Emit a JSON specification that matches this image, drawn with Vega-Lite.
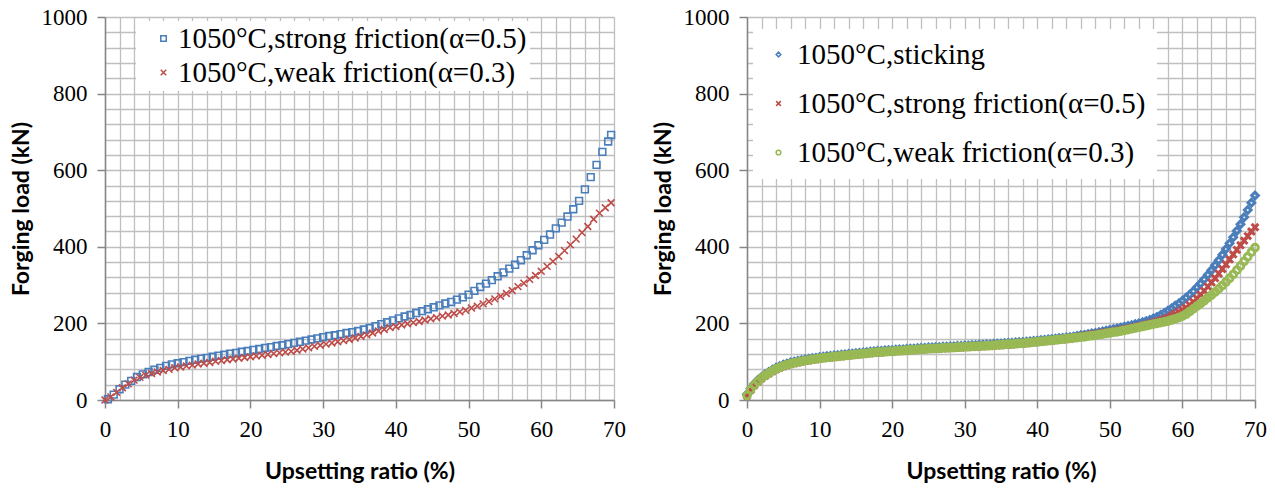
{
  "$schema": "https://vega.github.io/schema/vega-lite/v6.json",
  "padding": {"left": 10, "top": 6, "right": 10, "bottom": 5},
  "background": "white",
  "config": {"view": {"stroke": null}, "font": "Liberation Serif", "concat": {"spacing": 26},
    "axis": {"labelFont": "Liberation Serif", "labelFontSize": 23, "labelColor": "black", "titleFont": "Lato", "titleFontSize": 23, "titleFontWeight": "bold", "titleColor": "black"}},
  "resolve": {"scale": {"color": "independent", "shape": "independent"}, "legend": {"color": "independent", "shape": "independent"}},
  "datasets": {
    "left": [
      {"s":"a","x":0.4,"y":2},{"s":"a","x":1.2,"y":14},{"s":"a","x":2.0,"y":28},{"s":"a","x":2.8,"y":40},{"s":"a","x":3.6,"y":50},{"s":"a","x":4.4,"y":60},{"s":"a","x":5.2,"y":67},{"s":"a","x":6.0,"y":73},{"s":"a","x":6.8,"y":79},{"s":"a","x":7.6,"y":84},{"s":"a","x":8.4,"y":89},{"s":"a","x":9.2,"y":93},{"s":"a","x":10.0,"y":96},{"s":"a","x":10.8,"y":99},{"s":"a","x":11.6,"y":102},{"s":"a","x":12.4,"y":105},{"s":"a","x":13.2,"y":108},{"s":"a","x":14.0,"y":110},{"s":"a","x":14.8,"y":113},{"s":"a","x":15.6,"y":116},{"s":"a","x":16.4,"y":118},{"s":"a","x":17.2,"y":121},{"s":"a","x":18.0,"y":123},{"s":"a","x":18.8,"y":126},{"s":"a","x":19.6,"y":128},{"s":"a","x":20.4,"y":131},{"s":"a","x":21.2,"y":133},{"s":"a","x":22.0,"y":136},{"s":"a","x":22.8,"y":138},{"s":"a","x":23.6,"y":141},{"s":"a","x":24.4,"y":143},{"s":"a","x":25.2,"y":146},{"s":"a","x":26.0,"y":149},{"s":"a","x":26.8,"y":152},{"s":"a","x":27.6,"y":155},{"s":"a","x":28.4,"y":158},{"s":"a","x":29.2,"y":161},{"s":"a","x":30.0,"y":164},{"s":"a","x":30.8,"y":167},{"s":"a","x":31.6,"y":169},{"s":"a","x":32.4,"y":172},{"s":"a","x":33.2,"y":175},{"s":"a","x":34.0,"y":177},{"s":"a","x":34.8,"y":180},{"s":"a","x":35.6,"y":184},{"s":"a","x":36.4,"y":188},{"s":"a","x":37.2,"y":193},{"s":"a","x":38.0,"y":198},{"s":"a","x":38.8,"y":203},{"s":"a","x":39.6,"y":208},{"s":"a","x":40.4,"y":213},{"s":"a","x":41.2,"y":218},{"s":"a","x":42.0,"y":222},{"s":"a","x":42.8,"y":227},{"s":"a","x":43.6,"y":232},{"s":"a","x":44.4,"y":237},{"s":"a","x":45.2,"y":242},{"s":"a","x":46.0,"y":247},{"s":"a","x":46.8,"y":252},{"s":"a","x":47.6,"y":256},{"s":"a","x":48.4,"y":262},{"s":"a","x":49.2,"y":268},{"s":"a","x":50.0,"y":275},{"s":"a","x":50.8,"y":285},{"s":"a","x":51.6,"y":295},{"s":"a","x":52.4,"y":304},{"s":"a","x":53.2,"y":313},{"s":"a","x":54.0,"y":323},{"s":"a","x":54.8,"y":333},{"s":"a","x":55.6,"y":343},{"s":"a","x":56.4,"y":353},{"s":"a","x":57.2,"y":365},{"s":"a","x":58.0,"y":378},{"s":"a","x":58.8,"y":391},{"s":"a","x":59.6,"y":404},{"s":"a","x":60.4,"y":418},{"s":"a","x":61.2,"y":432},{"s":"a","x":62.0,"y":448},{"s":"a","x":62.8,"y":463},{"s":"a","x":63.6,"y":479},{"s":"a","x":64.4,"y":498},{"s":"a","x":65.2,"y":520},{"s":"a","x":66.0,"y":550},{"s":"a","x":66.8,"y":582},{"s":"a","x":67.6,"y":614},{"s":"a","x":68.4,"y":648},{"s":"a","x":69.2,"y":675},{"s":"a","x":69.6,"y":692},
      {"s":"b","x":0.0,"y":0},{"s":"b","x":0.8,"y":8},{"s":"b","x":1.6,"y":20},{"s":"b","x":2.4,"y":32},{"s":"b","x":3.2,"y":42},{"s":"b","x":4.0,"y":52},{"s":"b","x":4.8,"y":59},{"s":"b","x":5.6,"y":65},{"s":"b","x":6.4,"y":69},{"s":"b","x":7.2,"y":73},{"s":"b","x":8.0,"y":77},{"s":"b","x":8.8,"y":80},{"s":"b","x":9.6,"y":84},{"s":"b","x":10.4,"y":86},{"s":"b","x":11.2,"y":89},{"s":"b","x":12.0,"y":91},{"s":"b","x":12.8,"y":94},{"s":"b","x":13.6,"y":96},{"s":"b","x":14.4,"y":98},{"s":"b","x":15.2,"y":101},{"s":"b","x":16.0,"y":103},{"s":"b","x":16.8,"y":105},{"s":"b","x":17.6,"y":107},{"s":"b","x":18.4,"y":109},{"s":"b","x":19.2,"y":111},{"s":"b","x":20.0,"y":113},{"s":"b","x":20.8,"y":115},{"s":"b","x":21.6,"y":117},{"s":"b","x":22.4,"y":119},{"s":"b","x":23.2,"y":121},{"s":"b","x":24.0,"y":123},{"s":"b","x":24.8,"y":125},{"s":"b","x":25.6,"y":127},{"s":"b","x":26.4,"y":130},{"s":"b","x":27.2,"y":133},{"s":"b","x":28.0,"y":136},{"s":"b","x":28.8,"y":140},{"s":"b","x":29.6,"y":143},{"s":"b","x":30.4,"y":146},{"s":"b","x":31.2,"y":149},{"s":"b","x":32.0,"y":152},{"s":"b","x":32.8,"y":155},{"s":"b","x":33.6,"y":158},{"s":"b","x":34.4,"y":162},{"s":"b","x":35.2,"y":166},{"s":"b","x":36.0,"y":170},{"s":"b","x":36.8,"y":175},{"s":"b","x":37.6,"y":180},{"s":"b","x":38.4,"y":184},{"s":"b","x":39.2,"y":189},{"s":"b","x":40.0,"y":192},{"s":"b","x":40.8,"y":196},{"s":"b","x":41.6,"y":199},{"s":"b","x":42.4,"y":202},{"s":"b","x":43.2,"y":205},{"s":"b","x":44.0,"y":209},{"s":"b","x":44.8,"y":212},{"s":"b","x":45.6,"y":215},{"s":"b","x":46.4,"y":219},{"s":"b","x":47.2,"y":222},{"s":"b","x":48.0,"y":226},{"s":"b","x":48.8,"y":230},{"s":"b","x":49.6,"y":234},{"s":"b","x":50.4,"y":240},{"s":"b","x":51.2,"y":245},{"s":"b","x":52.0,"y":251},{"s":"b","x":52.8,"y":257},{"s":"b","x":53.6,"y":264},{"s":"b","x":54.4,"y":271},{"s":"b","x":55.2,"y":278},{"s":"b","x":56.0,"y":286},{"s":"b","x":56.8,"y":296},{"s":"b","x":57.6,"y":305},{"s":"b","x":58.4,"y":315},{"s":"b","x":59.2,"y":325},{"s":"b","x":60.0,"y":336},{"s":"b","x":60.8,"y":349},{"s":"b","x":61.6,"y":362},{"s":"b","x":62.4,"y":375},{"s":"b","x":63.2,"y":390},{"s":"b","x":64.0,"y":405},{"s":"b","x":64.8,"y":420},{"s":"b","x":65.6,"y":437},{"s":"b","x":66.4,"y":453},{"s":"b","x":67.2,"y":472},{"s":"b","x":68.0,"y":488},{"s":"b","x":68.8,"y":502},{"s":"b","x":69.6,"y":515}
    ],
    "right": [
      {"s":"p","x":0,"y":15},{"s":"p","x":0.5,"y":30},{"s":"p","x":1,"y":42},{"s":"p","x":1.5,"y":52},{"s":"p","x":2,"y":60},{"s":"p","x":2.5,"y":67},{"s":"p","x":3,"y":73},{"s":"p","x":3.5,"y":79},{"s":"p","x":4,"y":84},{"s":"p","x":4.5,"y":88},{"s":"p","x":5,"y":92},{"s":"p","x":5.5,"y":95},{"s":"p","x":6,"y":98},{"s":"p","x":6.5,"y":100},{"s":"p","x":7,"y":102},{"s":"p","x":7.5,"y":104},{"s":"p","x":8,"y":106},{"s":"p","x":8.5,"y":107},{"s":"p","x":9,"y":109},{"s":"p","x":9.5,"y":110},{"s":"p","x":10,"y":112},{"s":"p","x":10.5,"y":113},{"s":"p","x":11,"y":114},{"s":"p","x":11.5,"y":115},{"s":"p","x":12,"y":116},{"s":"p","x":12.5,"y":117},{"s":"p","x":13,"y":118},{"s":"p","x":13.5,"y":119},{"s":"p","x":14,"y":120},{"s":"p","x":14.5,"y":121},{"s":"p","x":15,"y":122},{"s":"p","x":15.5,"y":123},{"s":"p","x":16,"y":124},{"s":"p","x":16.5,"y":125},{"s":"p","x":17,"y":126},{"s":"p","x":17.5,"y":127},{"s":"p","x":18,"y":128},{"s":"p","x":18.5,"y":128},{"s":"p","x":19,"y":129},{"s":"p","x":19.5,"y":130},{"s":"p","x":20,"y":130},{"s":"p","x":20.5,"y":131},{"s":"p","x":21,"y":132},{"s":"p","x":21.5,"y":132},{"s":"p","x":22,"y":133},{"s":"p","x":22.5,"y":134},{"s":"p","x":23,"y":134},{"s":"p","x":23.5,"y":135},{"s":"p","x":24,"y":136},{"s":"p","x":24.5,"y":136},{"s":"p","x":25,"y":137},{"s":"p","x":25.5,"y":137},{"s":"p","x":26,"y":138},{"s":"p","x":26.5,"y":138},{"s":"p","x":27,"y":139},{"s":"p","x":27.5,"y":139},{"s":"p","x":28,"y":140},{"s":"p","x":28.5,"y":140},{"s":"p","x":29,"y":141},{"s":"p","x":29.5,"y":141},{"s":"p","x":30,"y":142},{"s":"p","x":30.5,"y":142},{"s":"p","x":31,"y":143},{"s":"p","x":31.5,"y":143},{"s":"p","x":32,"y":144},{"s":"p","x":32.5,"y":144},{"s":"p","x":33,"y":145},{"s":"p","x":33.5,"y":145},{"s":"p","x":34,"y":146},{"s":"p","x":34.5,"y":147},{"s":"p","x":35,"y":147},{"s":"p","x":35.5,"y":148},{"s":"p","x":36,"y":149},{"s":"p","x":36.5,"y":149},{"s":"p","x":37,"y":150},{"s":"p","x":37.5,"y":151},{"s":"p","x":38,"y":151},{"s":"p","x":38.5,"y":152},{"s":"p","x":39,"y":153},{"s":"p","x":39.5,"y":154},{"s":"p","x":40,"y":155},{"s":"p","x":40.5,"y":156},{"s":"p","x":41,"y":157},{"s":"p","x":41.5,"y":158},{"s":"p","x":42,"y":159},{"s":"p","x":42.5,"y":160},{"s":"p","x":43,"y":161},{"s":"p","x":43.5,"y":162},{"s":"p","x":44,"y":163},{"s":"p","x":44.5,"y":164},{"s":"p","x":45,"y":165},{"s":"p","x":45.5,"y":167},{"s":"p","x":46,"y":169},{"s":"p","x":46.5,"y":170},{"s":"p","x":47,"y":172},{"s":"p","x":47.5,"y":174},{"s":"p","x":48,"y":175},{"s":"p","x":48.5,"y":177},{"s":"p","x":49,"y":179},{"s":"p","x":49.5,"y":181},{"s":"p","x":50,"y":183},{"s":"p","x":50.5,"y":185},{"s":"p","x":51,"y":187},{"s":"p","x":51.5,"y":189},{"s":"p","x":52,"y":191},{"s":"p","x":52.5,"y":193},{"s":"p","x":53,"y":195},{"s":"p","x":53.5,"y":198},{"s":"p","x":54,"y":200},{"s":"p","x":54.5,"y":203},{"s":"p","x":55,"y":206},{"s":"p","x":55.5,"y":209},{"s":"p","x":56,"y":213},{"s":"p","x":56.5,"y":217},{"s":"p","x":57,"y":222},{"s":"p","x":57.5,"y":227},{"s":"p","x":58,"y":233},{"s":"p","x":58.5,"y":239},{"s":"p","x":59,"y":246},{"s":"p","x":59.5,"y":252},{"s":"p","x":60,"y":259},{"s":"p","x":60.5,"y":267},{"s":"p","x":61,"y":275},{"s":"p","x":61.5,"y":284},{"s":"p","x":62,"y":294},{"s":"p","x":62.5,"y":304},{"s":"p","x":63,"y":315},{"s":"p","x":63.5,"y":327},{"s":"p","x":64,"y":339},{"s":"p","x":64.5,"y":352},{"s":"p","x":65,"y":365},{"s":"p","x":65.5,"y":379},{"s":"p","x":66,"y":394},{"s":"p","x":66.5,"y":409},{"s":"p","x":67,"y":425},{"s":"p","x":67.5,"y":442},{"s":"p","x":68,"y":459},{"s":"p","x":68.5,"y":477},{"s":"p","x":69,"y":496},{"s":"p","x":69.5,"y":515},{"s":"p","x":70,"y":534},
      {"s":"q","x":0,"y":11},{"s":"q","x":0.5,"y":26},{"s":"q","x":1,"y":38},{"s":"q","x":1.5,"y":48},{"s":"q","x":2,"y":56},{"s":"q","x":2.5,"y":63},{"s":"q","x":3,"y":69},{"s":"q","x":3.5,"y":75},{"s":"q","x":4,"y":80},{"s":"q","x":4.5,"y":84},{"s":"q","x":5,"y":88},{"s":"q","x":5.5,"y":91},{"s":"q","x":6,"y":94},{"s":"q","x":6.5,"y":96},{"s":"q","x":7,"y":98},{"s":"q","x":7.5,"y":100},{"s":"q","x":8,"y":102},{"s":"q","x":8.5,"y":103},{"s":"q","x":9,"y":105},{"s":"q","x":9.5,"y":106},{"s":"q","x":10,"y":108},{"s":"q","x":10.5,"y":109},{"s":"q","x":11,"y":110},{"s":"q","x":11.5,"y":111},{"s":"q","x":12,"y":112},{"s":"q","x":12.5,"y":113},{"s":"q","x":13,"y":114},{"s":"q","x":13.5,"y":115},{"s":"q","x":14,"y":116},{"s":"q","x":14.5,"y":117},{"s":"q","x":15,"y":118},{"s":"q","x":15.5,"y":119},{"s":"q","x":16,"y":120},{"s":"q","x":16.5,"y":121},{"s":"q","x":17,"y":122},{"s":"q","x":17.5,"y":123},{"s":"q","x":18,"y":124},{"s":"q","x":18.5,"y":124},{"s":"q","x":19,"y":125},{"s":"q","x":19.5,"y":126},{"s":"q","x":20,"y":126},{"s":"q","x":20.5,"y":127},{"s":"q","x":21,"y":128},{"s":"q","x":21.5,"y":128},{"s":"q","x":22,"y":129},{"s":"q","x":22.5,"y":130},{"s":"q","x":23,"y":130},{"s":"q","x":23.5,"y":131},{"s":"q","x":24,"y":132},{"s":"q","x":24.5,"y":132},{"s":"q","x":25,"y":133},{"s":"q","x":25.5,"y":133},{"s":"q","x":26,"y":134},{"s":"q","x":26.5,"y":134},{"s":"q","x":27,"y":135},{"s":"q","x":27.5,"y":135},{"s":"q","x":28,"y":136},{"s":"q","x":28.5,"y":136},{"s":"q","x":29,"y":137},{"s":"q","x":29.5,"y":137},{"s":"q","x":30,"y":138},{"s":"q","x":30.5,"y":138},{"s":"q","x":31,"y":139},{"s":"q","x":31.5,"y":139},{"s":"q","x":32,"y":140},{"s":"q","x":32.5,"y":140},{"s":"q","x":33,"y":141},{"s":"q","x":33.5,"y":141},{"s":"q","x":34,"y":142},{"s":"q","x":34.5,"y":143},{"s":"q","x":35,"y":143},{"s":"q","x":35.5,"y":144},{"s":"q","x":36,"y":145},{"s":"q","x":36.5,"y":145},{"s":"q","x":37,"y":146},{"s":"q","x":37.5,"y":147},{"s":"q","x":38,"y":147},{"s":"q","x":38.5,"y":148},{"s":"q","x":39,"y":149},{"s":"q","x":39.5,"y":150},{"s":"q","x":40,"y":151},{"s":"q","x":40.5,"y":152},{"s":"q","x":41,"y":153},{"s":"q","x":41.5,"y":154},{"s":"q","x":42,"y":155},{"s":"q","x":42.5,"y":156},{"s":"q","x":43,"y":157},{"s":"q","x":43.5,"y":158},{"s":"q","x":44,"y":159},{"s":"q","x":44.5,"y":160},{"s":"q","x":45,"y":163},{"s":"q","x":45.5,"y":165},{"s":"q","x":46,"y":166},{"s":"q","x":46.5,"y":168},{"s":"q","x":47,"y":169},{"s":"q","x":47.5,"y":171},{"s":"q","x":48,"y":172},{"s":"q","x":48.5,"y":174},{"s":"q","x":49,"y":175},{"s":"q","x":49.5,"y":177},{"s":"q","x":50,"y":178},{"s":"q","x":50.5,"y":180},{"s":"q","x":51,"y":181},{"s":"q","x":51.5,"y":183},{"s":"q","x":52,"y":185},{"s":"q","x":52.5,"y":187},{"s":"q","x":53,"y":189},{"s":"q","x":53.5,"y":191},{"s":"q","x":54,"y":193},{"s":"q","x":54.5,"y":195},{"s":"q","x":55,"y":197},{"s":"q","x":55.5,"y":200},{"s":"q","x":56,"y":202},{"s":"q","x":56.5,"y":205},{"s":"q","x":57,"y":208},{"s":"q","x":57.5,"y":211},{"s":"q","x":58,"y":215},{"s":"q","x":58.5,"y":220},{"s":"q","x":59,"y":225},{"s":"q","x":59.5,"y":230},{"s":"q","x":60,"y":235},{"s":"q","x":60.5,"y":241},{"s":"q","x":61,"y":248},{"s":"q","x":61.5,"y":256},{"s":"q","x":62,"y":265},{"s":"q","x":62.5,"y":275},{"s":"q","x":63,"y":285},{"s":"q","x":63.5,"y":296},{"s":"q","x":64,"y":307},{"s":"q","x":64.5,"y":318},{"s":"q","x":65,"y":330},{"s":"q","x":65.5,"y":342},{"s":"q","x":66,"y":354},{"s":"q","x":66.5,"y":367},{"s":"q","x":67,"y":380},{"s":"q","x":67.5,"y":392},{"s":"q","x":68,"y":404},{"s":"q","x":68.5,"y":416},{"s":"q","x":69,"y":428},{"s":"q","x":69.5,"y":440},{"s":"q","x":70,"y":451},
      {"s":"r","x":0,"y":12},{"s":"r","x":0.5,"y":27},{"s":"r","x":1,"y":39},{"s":"r","x":1.5,"y":49},{"s":"r","x":2,"y":57},{"s":"r","x":2.5,"y":64},{"s":"r","x":3,"y":70},{"s":"r","x":3.5,"y":76},{"s":"r","x":4,"y":81},{"s":"r","x":4.5,"y":85},{"s":"r","x":5,"y":89},{"s":"r","x":5.5,"y":92},{"s":"r","x":6,"y":95},{"s":"r","x":6.5,"y":97},{"s":"r","x":7,"y":99},{"s":"r","x":7.5,"y":101},{"s":"r","x":8,"y":103},{"s":"r","x":8.5,"y":104},{"s":"r","x":9,"y":106},{"s":"r","x":9.5,"y":107},{"s":"r","x":10,"y":109},{"s":"r","x":10.5,"y":110},{"s":"r","x":11,"y":111},{"s":"r","x":11.5,"y":112},{"s":"r","x":12,"y":113},{"s":"r","x":12.5,"y":114},{"s":"r","x":13,"y":115},{"s":"r","x":13.5,"y":116},{"s":"r","x":14,"y":117},{"s":"r","x":14.5,"y":118},{"s":"r","x":15,"y":119},{"s":"r","x":15.5,"y":120},{"s":"r","x":16,"y":121},{"s":"r","x":16.5,"y":122},{"s":"r","x":17,"y":123},{"s":"r","x":17.5,"y":124},{"s":"r","x":18,"y":125},{"s":"r","x":18.5,"y":125},{"s":"r","x":19,"y":126},{"s":"r","x":19.5,"y":127},{"s":"r","x":20,"y":127},{"s":"r","x":20.5,"y":128},{"s":"r","x":21,"y":129},{"s":"r","x":21.5,"y":129},{"s":"r","x":22,"y":130},{"s":"r","x":22.5,"y":131},{"s":"r","x":23,"y":131},{"s":"r","x":23.5,"y":132},{"s":"r","x":24,"y":133},{"s":"r","x":24.5,"y":133},{"s":"r","x":25,"y":134},{"s":"r","x":25.5,"y":134},{"s":"r","x":26,"y":135},{"s":"r","x":26.5,"y":135},{"s":"r","x":27,"y":136},{"s":"r","x":27.5,"y":136},{"s":"r","x":28,"y":137},{"s":"r","x":28.5,"y":137},{"s":"r","x":29,"y":138},{"s":"r","x":29.5,"y":138},{"s":"r","x":30,"y":139},{"s":"r","x":30.5,"y":139},{"s":"r","x":31,"y":140},{"s":"r","x":31.5,"y":140},{"s":"r","x":32,"y":141},{"s":"r","x":32.5,"y":141},{"s":"r","x":33,"y":142},{"s":"r","x":33.5,"y":142},{"s":"r","x":34,"y":143},{"s":"r","x":34.5,"y":144},{"s":"r","x":35,"y":144},{"s":"r","x":35.5,"y":145},{"s":"r","x":36,"y":146},{"s":"r","x":36.5,"y":146},{"s":"r","x":37,"y":147},{"s":"r","x":37.5,"y":148},{"s":"r","x":38,"y":148},{"s":"r","x":38.5,"y":149},{"s":"r","x":39,"y":150},{"s":"r","x":39.5,"y":151},{"s":"r","x":40,"y":152},{"s":"r","x":40.5,"y":153},{"s":"r","x":41,"y":154},{"s":"r","x":41.5,"y":155},{"s":"r","x":42,"y":156},{"s":"r","x":42.5,"y":157},{"s":"r","x":43,"y":158},{"s":"r","x":43.5,"y":159},{"s":"r","x":44,"y":160},{"s":"r","x":44.5,"y":161},{"s":"r","x":45,"y":162},{"s":"r","x":45.5,"y":163},{"s":"r","x":46,"y":164},{"s":"r","x":46.5,"y":165},{"s":"r","x":47,"y":167},{"s":"r","x":47.5,"y":168},{"s":"r","x":48,"y":169},{"s":"r","x":48.5,"y":171},{"s":"r","x":49,"y":172},{"s":"r","x":49.5,"y":174},{"s":"r","x":50,"y":175},{"s":"r","x":50.5,"y":177},{"s":"r","x":51,"y":178},{"s":"r","x":51.5,"y":180},{"s":"r","x":52,"y":182},{"s":"r","x":52.5,"y":184},{"s":"r","x":53,"y":186},{"s":"r","x":53.5,"y":188},{"s":"r","x":54,"y":190},{"s":"r","x":54.5,"y":192},{"s":"r","x":55,"y":194},{"s":"r","x":55.5,"y":196},{"s":"r","x":56,"y":198},{"s":"r","x":56.5,"y":200},{"s":"r","x":57,"y":202},{"s":"r","x":57.5,"y":204},{"s":"r","x":58,"y":206},{"s":"r","x":58.5,"y":209},{"s":"r","x":59,"y":212},{"s":"r","x":59.5,"y":215},{"s":"r","x":60,"y":219},{"s":"r","x":60.5,"y":224},{"s":"r","x":61,"y":231},{"s":"r","x":61.5,"y":238},{"s":"r","x":62,"y":245},{"s":"r","x":62.5,"y":252},{"s":"r","x":63,"y":259},{"s":"r","x":63.5,"y":267},{"s":"r","x":64,"y":274},{"s":"r","x":64.5,"y":282},{"s":"r","x":65,"y":290},{"s":"r","x":65.5,"y":299},{"s":"r","x":66,"y":308},{"s":"r","x":66.5,"y":318},{"s":"r","x":67,"y":328},{"s":"r","x":67.5,"y":339},{"s":"r","x":68,"y":350},{"s":"r","x":68.5,"y":362},{"s":"r","x":69,"y":374},{"s":"r","x":69.5,"y":386},{"s":"r","x":70,"y":398}
    ]
  },
  "hconcat": [
    {
      "width": 509,
      "height": 383,
      "data": {"name": "left"},
      "mark": {"type": "point", "filled": false, "strokeWidth": 1.6, "size": 46, "opacity": 1},
      "encoding": {
        "x": {"field": "x", "type": "quantitative", "scale": {"domain": [0, 70], "nice": false, "zero": false},
          "axis": {"values": [0,2,4,6,8,10,12,14,16,18,20,22,24,26,28,30,32,34,36,38,40,42,44,46,48,50,52,54,56,58,60,62,64,66,68,70],
            "labelExpr": "datum.value % 10 === 0 ? '' + datum.value : ''", "labelOverlap": false, "labelFlush": false,
            "grid": true, "gridColor": "#bfbfbf", "gridWidth": 1.3,
            "domainColor": "#868686", "domainWidth": 1.5, "tickColor": "#868686", "tickWidth": 1.5, "tickSize": 8,
            "tickOpacity": {"condition": {"test": "datum.value % 10 === 0", "value": 1}, "value": 0},
            "labelFont": "Liberation Serif", "labelFontSize": 23, "labelColor": "black", "labelPadding": 10,
            "title": "Upsetting ratio (%)", "titleFont": "Lato", "titleFontSize": 23, "titleFontWeight": "bold", "titleColor": "black", "titlePadding": 19}},
        "y": {"field": "y", "type": "quantitative", "scale": {"domain": [0, 1000], "nice": false, "zero": false},
          "axis": {"values": [0,40,80,120,160,200,240,280,320,360,400,440,480,520,560,600,640,680,720,760,800,840,880,920,960,1000],
            "labelExpr": "datum.value % 200 === 0 ? '' + datum.value : ''", "labelOverlap": false, "labelFlush": false,
            "grid": true, "gridColor": "#bfbfbf", "gridWidth": 1.3,
            "domainColor": "#868686", "domainWidth": 1.5, "tickColor": "#868686", "tickWidth": 1.5, "tickSize": 8,
            "tickOpacity": {"condition": {"test": "datum.value % 200 === 0", "value": 1}, "value": 0},
            "labelFont": "Liberation Serif", "labelFontSize": 23, "labelColor": "black", "labelPadding": 10,
            "title": "Forging load (kN)", "titleFont": "Lato", "titleFontSize": 23, "titleFontWeight": "bold", "titleColor": "black", "titlePadding": 8}},
        "color": {"field": "s", "type": "nominal", "scale": {"domain": ["a", "b"], "range": ["#4A7EBB", "#BE4B48"]},
          "legend": {"orient": "none", "legendX": 31, "legendY": 4, "title": null, "fillColor": "white", "padding": 3,
            "labelFont": "Liberation Serif", "labelFontSize": 29, "labelColor": "black", "labelLimit": 600,
            "labelExpr": "datum.label == 'a' ? '1050°C,strong friction(α=0.5)\u2002' : '1050°C,weak friction(α=0.3)\u2002'",
            "symbolSize": 30, "symbolStrokeWidth": 1.5, "symbolOffset": 10, "labelOffset": 0, "rowPadding": 4}},
        "shape": {"field": "s", "type": "nominal", "scale": {"domain": ["a", "b"], "range": ["square", "M-1,-1L1,1M-1,1L1,-1"]},
          "legend": {"orient": "none", "legendX": 31, "legendY": 4, "title": null, "fillColor": "white", "padding": 3,
            "labelFont": "Liberation Serif", "labelFontSize": 29, "labelColor": "black", "labelLimit": 600,
            "labelExpr": "datum.label == 'a' ? '1050°C,strong friction(α=0.5)\u2002' : '1050°C,weak friction(α=0.3)\u2002'",
            "symbolSize": 30, "symbolStrokeWidth": 1.5, "symbolOffset": 10, "labelOffset": 0, "rowPadding": 4}}
      }
    },
    {
      "width": 508,
      "height": 383,
      "data": {"name": "right"},
      "mark": {"type": "point", "filled": false, "strokeWidth": 3, "size": 45, "opacity": 1},
      "encoding": {
        "x": {"field": "x", "type": "quantitative", "scale": {"domain": [0, 70], "nice": false, "zero": false},
          "axis": {"values": [0,2,4,6,8,10,12,14,16,18,20,22,24,26,28,30,32,34,36,38,40,42,44,46,48,50,52,54,56,58,60,62,64,66,68,70],
            "labelExpr": "datum.value % 10 === 0 ? '' + datum.value : ''", "labelOverlap": false, "labelFlush": false,
            "grid": true, "gridColor": "#bfbfbf", "gridWidth": 1.3,
            "domainColor": "#868686", "domainWidth": 1.5, "tickColor": "#868686", "tickWidth": 1.5, "tickSize": 8,
            "tickOpacity": {"condition": {"test": "datum.value % 10 === 0", "value": 1}, "value": 0},
            "labelFont": "Liberation Serif", "labelFontSize": 23, "labelColor": "black", "labelPadding": 10,
            "title": "Upsetting ratio (%)", "titleFont": "Lato", "titleFontSize": 23, "titleFontWeight": "bold", "titleColor": "black", "titlePadding": 19}},
        "y": {"field": "y", "type": "quantitative", "scale": {"domain": [0, 1000], "nice": false, "zero": false},
          "axis": {"values": [0,40,80,120,160,200,240,280,320,360,400,440,480,520,560,600,640,680,720,760,800,840,880,920,960,1000],
            "labelExpr": "datum.value % 200 === 0 ? '' + datum.value : ''", "labelOverlap": false, "labelFlush": false,
            "grid": true, "gridColor": "#bfbfbf", "gridWidth": 1.3,
            "domainColor": "#868686", "domainWidth": 1.5, "tickColor": "#868686", "tickWidth": 1.5, "tickSize": 8,
            "tickOpacity": {"condition": {"test": "datum.value % 200 === 0", "value": 1}, "value": 0},
            "labelFont": "Liberation Serif", "labelFontSize": 23, "labelColor": "black", "labelPadding": 10,
            "title": "Forging load (kN)", "titleFont": "Lato", "titleFontSize": 23, "titleFontWeight": "bold", "titleColor": "black", "titlePadding": 8}},
        "color": {"field": "s", "type": "nominal", "scale": {"domain": ["p", "q", "r"], "range": ["#4A7EBB", "#BE4B48", "#98B954"]},
          "legend": {"orient": "none", "legendX": 6, "legendY": 12, "title": null, "fillColor": "white", "padding": 11,
            "labelFont": "Liberation Serif", "labelFontSize": 29, "labelColor": "black", "labelLimit": 600,
            "labelExpr": "datum.label == 'p' ? '1050°C,sticking' : datum.label == 'q' ? '1050°C,strong friction(α=0.5)\u2009' : '1050°C,weak friction(α=0.3)'",
            "symbolSize": 22, "symbolStrokeWidth": 1.5, "symbolOffset": 0, "labelOffset": 4, "rowPadding": 19}},
        "shape": {"field": "s", "type": "nominal", "scale": {"domain": ["p", "q", "r"], "range": ["diamond", "M-1,-1L1,1M-1,1L1,-1", "circle"]},
          "legend": {"orient": "none", "legendX": 6, "legendY": 12, "title": null, "fillColor": "white", "padding": 11,
            "labelFont": "Liberation Serif", "labelFontSize": 29, "labelColor": "black", "labelLimit": 600,
            "labelExpr": "datum.label == 'p' ? '1050°C,sticking' : datum.label == 'q' ? '1050°C,strong friction(α=0.5)\u2009' : '1050°C,weak friction(α=0.3)'",
            "symbolSize": 22, "symbolStrokeWidth": 1.5, "symbolOffset": 0, "labelOffset": 4, "rowPadding": 19}}
      }
    }
  ]
}
